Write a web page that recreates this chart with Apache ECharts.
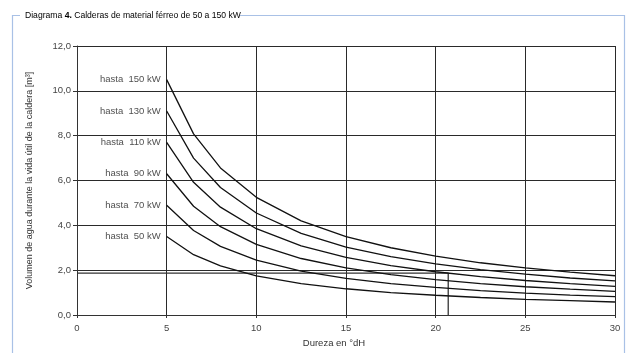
<!DOCTYPE html>
<html>
<head>
<meta charset="utf-8">
<script src="https://cdn.jsdelivr.net/npm/echarts@6/dist/echarts.min.js"></script>
<style>
html,body{margin:0;padding:0;background:#fff;}
#c{width:632px;height:353px;}
</style>
</head>
<body>
<div id="c"></div>
<script>
var hardness = [5, 6.5, 8, 10, 12.5, 15, 17.5, 20, 22.5, 25, 27.5, 30];
var v150 = [10.5, 8.08, 6.56, 5.25, 4.2, 3.5, 3.0, 2.63, 2.33, 2.1, 1.91, 1.75];
var v130 = [9.1, 7.0, 5.69, 4.55, 3.64, 3.03, 2.6, 2.28, 2.02, 1.82, 1.65, 1.52];
var v110 = [7.7, 5.92, 4.81, 3.85, 3.08, 2.57, 2.2, 1.93, 1.71, 1.54, 1.4, 1.28];
var v90  = [6.3, 4.85, 3.94, 3.15, 2.52, 2.1, 1.8, 1.58, 1.4, 1.26, 1.15, 1.05];
var v70  = [4.9, 3.77, 3.06, 2.45, 1.96, 1.63, 1.4, 1.23, 1.09, 0.98, 0.89, 0.82];
var v50  = [3.5, 2.69, 2.19, 1.75, 1.4, 1.17, 1.0, 0.88, 0.78, 0.7, 0.64, 0.58];
var seriesNames = ['hasta  150 kW', 'hasta  130 kW', 'hasta  110 kW', 'hasta  90 kW', 'hasta  70 kW', 'hasta  50 kW'];
var seriesValues = [v150, v130, v110, v90, v70, v50];
var markerX = [0, 20.7, 20.7];
var markerY = [1.87, 1.87, 0];
var yTicks = ['0,0', '2,0', '4,0', '6,0', '8,0', '10,0', '12,0'];

var FONT = '"Liberation Sans", Arial, sans-serif';
var chart = echarts.init(document.getElementById('c'));

function pairs(xs, ys) { return xs.map(function (x, i) { return [x, ys[i]]; }); }

var series = seriesValues.map(function (vals, k) {
  return {
    type: 'line',
    name: seriesNames[k],
    data: pairs(hardness, vals),
    symbol: 'none',
    silent: true,
    lineStyle: { color: '#111', width: 1.3 },
    z: 3
  };
});
series.push({
  type: 'scatter',
  data: seriesValues.map(function (vals, k) {
    return { value: [hardness[0], vals[0]], name: seriesNames[k] };
  }),
  symbol: 'circle',
  symbolSize: 2,
  silent: true,
  itemStyle: { color: 'rgba(0,0,0,0)' },
  label: {
    show: true,
    position: 'left',
    distance: 5,
    color: '#222',
    fontSize: 9.5,
    fontFamily: FONT,
    formatter: function (p) { return p.name; }
  },
  z: 4
});
series.push({
  type: 'line',
  data: pairs(markerX, markerY),
  symbol: 'none',
  silent: true,
  lineStyle: { color: '#333', width: 1.3 },
  z: 2
});

chart.setOption({
  animation: false,
  backgroundColor: '#fff',
  grid: { left: 77, right: 17, top: 46, bottom: 38 },
  xAxis: {
    type: 'value', min: 0, max: 30, interval: 5,
    name: 'Dureza en °dH', nameLocation: 'middle', nameGap: 22,
    nameTextStyle: { color: '#333', fontSize: 9.5, fontFamily: FONT, padding: [0, 24, 0, 0] },
    axisLine: { show: true, lineStyle: { color: '#333', width: 1 } },
    axisTick: { show: true, length: 3, lineStyle: { color: '#333' } },
    axisLabel: { color: '#444', fontSize: 9.5, fontFamily: FONT, margin: 8 },
    splitLine: { show: true, lineStyle: { color: '#2a2a2a', width: 1 } }
  },
  yAxis: {
    type: 'value', min: 0, max: 12, interval: 2,
    name: 'Volumen de agua durante la vida útil de la caldera [m³]',
    nameLocation: 'middle', nameGap: 43, nameRotate: 90,
    nameTextStyle: { color: '#333', fontSize: 9, fontFamily: FONT },
    axisLine: { show: true, lineStyle: { color: '#333', width: 1 } },
    axisTick: { show: true, length: 4, lineStyle: { color: '#333' } },
    axisLabel: {
      color: '#444', fontSize: 9.5, fontFamily: FONT, margin: 6,
      formatter: function (v) { return yTicks[Math.round(v / 2)]; }
    },
    splitLine: { show: true, lineStyle: { color: '#2a2a2a', width: 1 } }
  },
  graphic: [
    {
      type: 'rect', silent: true, z: -1,
      shape: { x: 12.5, y: 15.5, width: 612, height: 360 },
      style: { fill: 'none', stroke: '#a9c1e6', lineWidth: 1.2 }
    },
    {
      type: 'rect', silent: true, z: 0,
      shape: { x: 20, y: 8, width: 220, height: 16 },
      style: { fill: '#fff' }
    },
    {
      type: 'text', silent: true, z: 1,
      left: 25, top: 11,
      style: {
        text: '{n|Diagrama }{b|4.}{n| Calderas de material férreo de 50 a 150 kW}',
        rich: {
          n: { fontSize: 8.6, fontFamily: FONT, fill: '#000', fontWeight: 500 },
          b: { fontSize: 8.6, fontFamily: FONT, fill: '#000', fontWeight: 'bold' }
        }
      }
    }
  ],
  series: series
});
</script>
</body>
</html>
